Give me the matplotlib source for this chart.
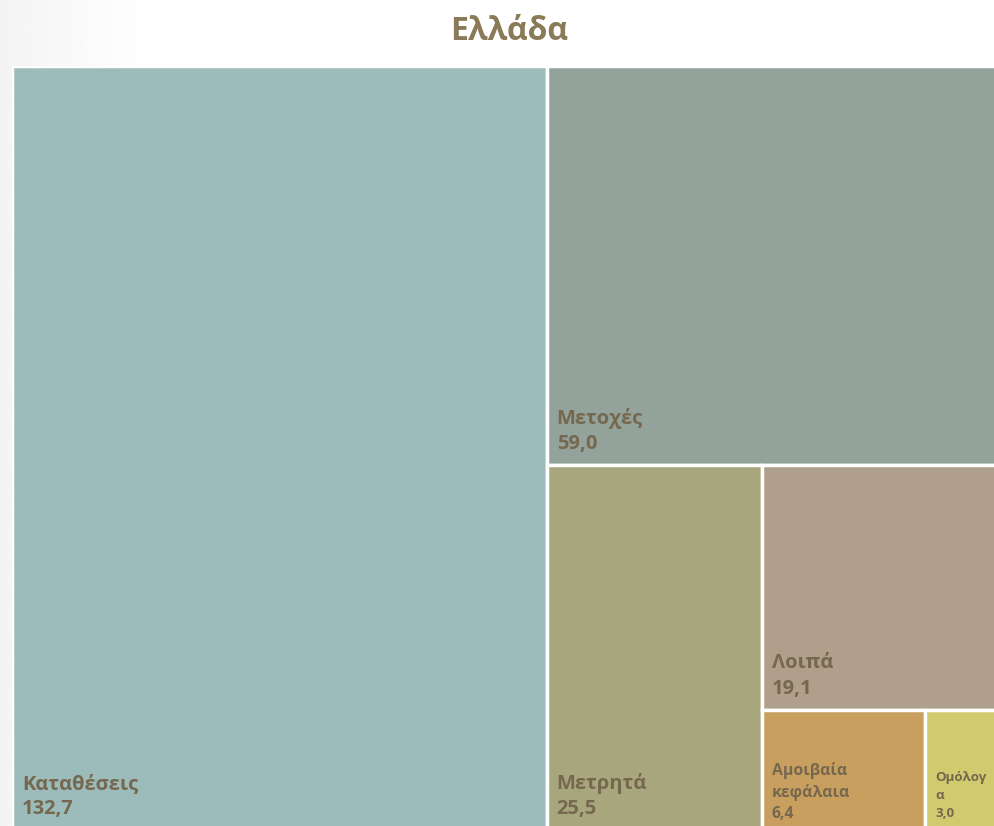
import matplotlib.pyplot as plt
from matplotlib.patches import Rectangle
import numpy as np

plt.rcParams['font.family'] = ['Open Sans', 'DejaVu Sans']

labels = ['Καταθέσεις', 'Μετοχές', 'Μετρητά', 'Λοιπά', 'Αμοιβαία\nκεφάλαια', 'Ομόλογ\nα']
values = [132.7, 59.0, 25.5, 19.1, 6.4, 3.0]
value_text = ['132,7', '59,0', '25,5', '19,1', '6,4', '3,0']
colors = ['#9cbcbc', '#93a29a', '#a8a67c', '#b09f8a', '#c89f5f', '#d0cb6f']
# split direction for each step of the slice layout: 'v' = column on the left, 'h' = row on top
splits = ['v', 'h', 'v', 'h', 'v', 'v']
fsize = [14.5, 14.5, 14.5, 14.5, 11.3, 9.6]
lspace = [1.35, 1.35, 1.35, 1.35, 1.4, 1.5]
pad_b = [11, 11, 11, 11, 8, 10]

W, H = 990.0, 764.0  # layout area in pixels

fig = plt.figure(figsize=(9.95, 8.26), dpi=100)

# faint grey shading at the left edge of the slide
bg = fig.add_axes([0, 0, 1, 1])
grad = np.linspace(0.955, 1.0, 150)
grad = np.concatenate([grad, np.ones(850)])
bg.imshow(np.tile(grad, (10, 1)), cmap='gray', vmin=0, vmax=1, aspect='auto', extent=[0, 1, 0, 1])
bg.axis('off')

ax = fig.add_axes([12 / 995, (826 - 66 - H) / 826, W / 995, H / 826])
ax.set_xlim(0, W)
ax.set_ylim(H, 0)
ax.axis('off')

x, y, w, h = 0.0, 0.0, W, H
rest = sum(values)
rects = []
for v, s in zip(values, splits):
    frac = v / rest
    if s == 'v':
        rects.append((x, y, w * frac, h))
        x += w * frac
        w -= w * frac
    else:
        rects.append((x, y, w, h * frac))
        y += h * frac
        h -= h * frac
    rest -= v

for (rx, ry, rw, rh), lab, vt, c, fs, ls, pb in zip(rects, labels, value_text, colors, fsize, lspace, pad_b):
    ax.add_patch(Rectangle((rx, ry), rw, rh, facecolor=c, edgecolor='white', linewidth=2.5))
    ax.text(rx + 10, ry + rh - pb, lab + '\n' + vt, ha='left', va='bottom',
            fontsize=fs, fontweight='bold', color='#75684e', linespacing=ls)

fig.text(0.512, 0.962, 'Ελλάδα', ha='center', va='center', fontsize=23,
         fontweight='bold', color='#8a7b58')

fig.savefig('out.png', dpi=100)
